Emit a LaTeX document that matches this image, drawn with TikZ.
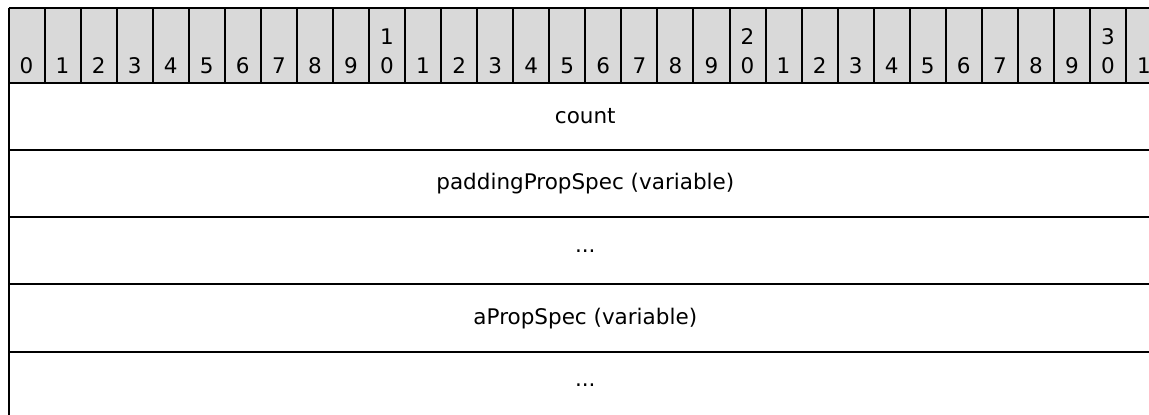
\documentclass[tikz,border=0pt]{standalone}
\usepackage{fontspec}
\setmainfont{DejaVu Sans}
\begin{document}
\begin{tikzpicture}[x=1pt,y=-1pt,
  grid/.style={line width=2pt, draw=black},
  hdr/.style={fill=hdrgray},
  bitlabel/.style={anchor=south, inner sep=0pt, align=center, font=\fontsize{21.5}{28.5}\selectfont},
  field/.style={anchor=center, inner sep=0pt, font=\fontsize{21.5}{28}\selectfont}]
\definecolor{hdrgray}{HTML}{D9D9D9}
\useasboundingbox (0,0) rectangle (1149,415);
\clip (0,0) rectangle (1149,415);
\def\xo{8.5}
\def\cw{36.05}
% header background
\fill[hdr] (\xo,7.5) rectangle (1170,82.5);
% bit labels
\foreach \i in {0,...,31}{
  \pgfmathsetmacro{\cx}{\xo+(\i+0.5)*\cw}
  \pgfmathtruncatemacro{\ta}{\i/10}
  \pgfmathtruncatemacro{\tb}{\i-10*\ta}
  \ifnum\tb=0
    \ifnum\i=0
      \node[bitlabel] (b\i) at (\cx,74) {0};
    \else
      \node[bitlabel] (b\i) at (\cx,74) {\ta\\\tb};
    \fi
  \else
    \node[bitlabel] (b\i) at (\cx,74) {\tb};
  \fi
}
% header vertical lines
\foreach \k in {0,...,32}{
  \draw[grid] ({\xo+\k*\cw},7.5) -- ({\xo+\k*\cw},82.5);
}
% header top line
\draw[grid] (\xo,7.5) -- (1170,7.5);
% row lines
\foreach \r in {0,...,4}{
  \draw[grid] (\xo,{82.5+67.3*\r}) -- (1170,{82.5+67.3*\r});
}
% left border
\draw[grid] (\xo,7.5) -- (\xo,420);
% field labels
\node[field] (f1) at (585.3,116.2) {count};
\node[field] (f2) at (585.3,183.5) {paddingPropSpec (variable)};
\node[field] (f3) at (585.3,250.8) {...};
\node[field] (f4) at (585.3,318.1) {aPropSpec (variable)};
\node[field] (f5) at (585.3,385.4) {...};
\end{tikzpicture}
\end{document}
